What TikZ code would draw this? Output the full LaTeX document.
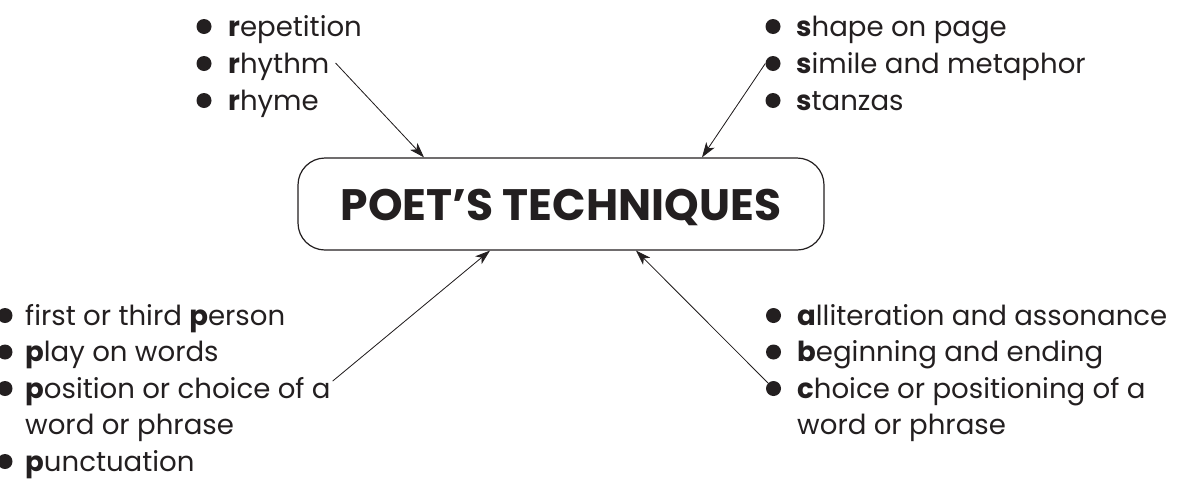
\documentclass[tikz,border=0pt]{standalone}
\usepackage{fontspec}
\setmainfont{Poppins}
\usetikzlibrary{arrows.meta,calc}

\newcommand\itemsize{\fontsize{27.6}{33}\selectfont}
\newcommand\hubsize{\fontsize{44}{50}\selectfont}

% one bulleted line: name, text x, baseline y, bullet offset, text
\newcommand\bulletline[5]{%
  \node[dot] (#1d) at ({#2-#4},{#3-9.5}) {};
  \node[item] (#1) at (#2,#3) {#5};
}

\definecolor{ink}{HTML}{231F20}

\tikzset{
  item/.style={anchor=base west, inner sep=0pt, font=\itemsize, text=ink},
  dot/.style={circle, fill=ink, inner sep=0pt, minimum size=15pt},
  link/.style={-{Stealth[length=15pt,width=10pt,inset=4pt]}, line width=0.8pt, draw=ink, fill=ink},
  hub/.style={draw=ink, line width=1.2pt, rounded corners=27pt,
    minimum width=526pt, minimum height=92pt, inner sep=0pt,
    text height=33pt, text depth=0pt, font=\hubsize\bfseries, text=ink}
}

\begin{document}
\begin{tikzpicture}[x=1pt,y=-1pt]
\useasboundingbox (0,0) rectangle (1177,480);

\node[hub] (hub) at (561,204) {POET’S TECHNIQUES};

% top left: r
\bulletline{rep}{228}{36}{24}{\textbf{r}epetition}
\bulletline{rhythm}{228}{73}{24}{\textbf{r}hythm}
\bulletline{rhyme}{228}{110}{24}{\textbf{r}hyme}

% top right: s
\bulletline{shape}{796}{36}{23}{\textbf{s}hape on page}
\bulletline{simile}{796}{73}{23}{\textbf{s}imile and metaphor}
\bulletline{stanza}{796}{110}{23}{\textbf{s}tanzas}

% bottom left: p
\bulletline{person}{25}{325}{20}{first or third \textbf{p}erson}
\bulletline{play}{25}{361.5}{20}{\textbf{p}lay on words}
\bulletline{pos}{25}{398}{20}{\textbf{p}osition or choice of a}
\node[item] (posb) at (25,434.5) {word or phrase};
\bulletline{punct}{25}{471}{20}{\textbf{p}unctuation}

% bottom right: a, b, c
\bulletline{allit}{797}{325}{23.5}{\textbf{a}lliteration and assonance}
\bulletline{begin}{797}{361.5}{23.5}{\textbf{b}eginning and ending}
\bulletline{choice}{797}{398}{23.5}{\textbf{c}hoice or positioning of a}
\node[item] (choiceb) at (797,434.5) {word or phrase};

% connectors into the central box
\draw[link] ($(rhythm.base east)+(6,-10)$) -- ($(hub.north)+(-137,0)$);
\draw[link] (similed.west) -- ($(hub.north)+(141,0)$);
\draw[link] ($(pos.base east)+(2,-17)$) -- ($(hub.south)+(-71,0)$);
\draw[link] (choiced.north west) -- ($(hub.south)+(75,0)$);
\end{tikzpicture}
\end{document}
